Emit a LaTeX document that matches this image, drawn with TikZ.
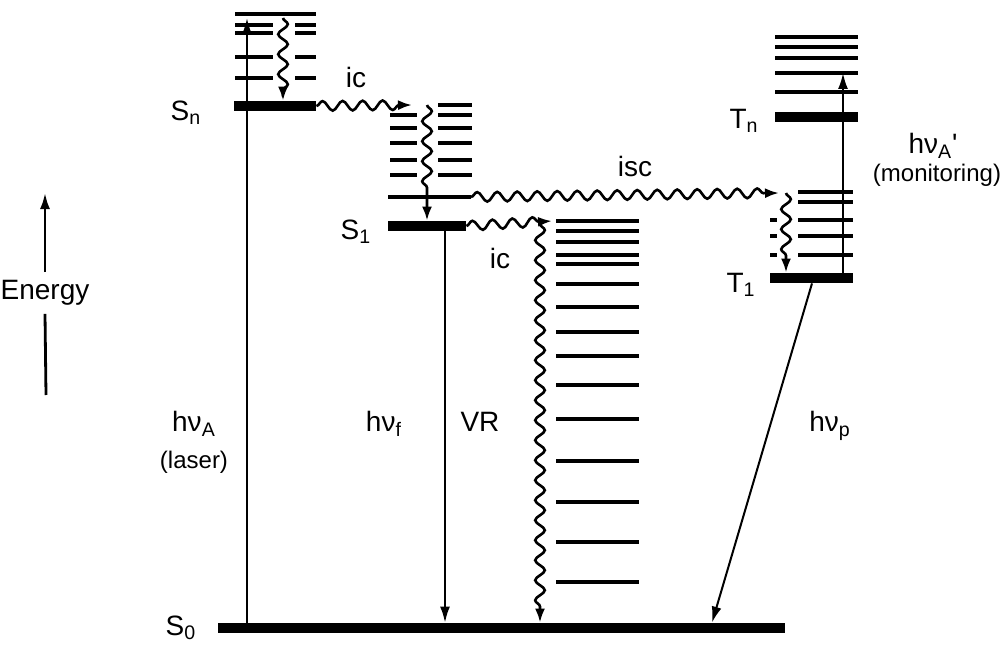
\documentclass[tikz,border=0pt]{standalone}
\usepackage{fontspec}
\setmainfont{Liberation Sans}
\usepackage{tikz}
\usetikzlibrary{arrows.meta,decorations.pathmorphing,positioning}

\begin{document}
\begin{tikzpicture}[x=0.5pt,y=-0.5pt,
    bar/.style={rectangle,fill=black,inner sep=0pt,minimum height=5pt},
    lvl/.style={line width=1.8pt},
    arr/.style={line width=1pt,-{Latex[length=8pt,width=5pt]}},
    wavy/.style={line width=1.3pt,-{Latex[length=7pt,width=5pt]},decorate,
      decoration={snake,amplitude=2.4pt,segment length=10pt,post length=5pt}},
    lbl/.style={font=\fontsize{14}{16}\selectfont,inner sep=1pt},
    sml/.style={font=\fontsize{12}{14}\selectfont,inner sep=1pt}]
  \useasboundingbox (0,0) rectangle (1007,647);

  % electronic levels
  \node[bar,minimum width=283.5pt] (S0) at (501.5,628) {};
  \node[bar,minimum width=41pt] (Sn) at (275,106) {};
  \node[bar,minimum width=39pt] (S1) at (427,226) {};
  \node[bar,minimum width=41.5pt] (Tn) at (816.5,117) {};
  \node[bar,minimum width=41.5pt] (T1) at (811.5,278) {};

  % vibrational levels
  \draw[lvl] (235,14) -- (316,14);
  \foreach \y in {25,33,57,78} {
    \draw[lvl] (235,\y) -- (273,\y);
    \draw[lvl] (295,\y) -- (316,\y);
  }
  \draw[lvl] (438,105) -- (472,105);
  \foreach \y in {115,128,143,160,175} {
    \draw[lvl] (390,\y) -- (417,\y);
    \draw[lvl] (438,\y) -- (472,\y);
  }
  \draw[lvl] (388,197) -- (471,197);
  \foreach \y in {221,231,242,255,264,284,307,332,356,385,419,461,502,542,582}
    \draw[lvl] (556,\y) -- (639,\y);
  \foreach \y in {37,47,58,73,92}
    \draw[lvl] (775,\y) -- (858,\y);
  \foreach \y in {192,202,220,236,255}
    \draw[lvl] (798,\y) -- (853,\y);
  \foreach \y in {220,236,255}
    \draw[lvl] (770,\y) -- (777,\y);

  % end points
  \coordinate (xA) at (247,18);
  \coordinate (xf) at (445,0);
  \coordinate (snw) at (283,18);
  \coordinate (icn) at (412,105);
  \coordinate (s1w) at (427,105);
  \coordinate (iscs) at (471,197);
  \coordinate (isce) at (779,193);
  \coordinate (t1w) at (786,193);
  \coordinate (ic1) at (552,221);
  \coordinate (vr) at (540,224);
  \coordinate (xAp) at (843,73);
  \coordinate (xp) at (812,0);
  \coordinate (xpe) at (712,0);
  \coordinate (etop) at (45,193);
  \coordinate (ebot) at (46,395);

  % transitions
  \draw[arr] (S0.north -| xA) -- (xA);
  \draw[wavy] (snw) -- (Sn.north -| snw);
  \draw[wavy] (Sn.east) -- (icn);
  \draw[wavy,/pgf/decoration/post length=12pt] (s1w) -- (S1.north -| s1w);
  \draw[arr] (S1.south -| xf) -- (S0.north -| xf);
  \draw[wavy] (S1.east) -- (ic1);
  \draw[wavy] (vr) -- (S0.north -| vr);
  \draw[wavy] (iscs) -- (isce);
  \draw[wavy] (t1w) -- (T1.north -| t1w);
  \draw[arr] (T1.north -| xAp) -- (xAp);
  \draw[arr] (T1.south -| xp) -- (S0.north -| xpe);

  % labels
  \node[lbl] (lSn) at (186,113) {S\textsubscript{n}};
  \node[lbl] (lS1) at (356,232) {S\textsubscript{1}};
  \node[lbl] (lS0) at (181,628) {S\textsubscript{0}};
  \node[lbl] (lTn) at (744,121) {T\textsubscript{n}};
  \node[lbl] (lT1) at (741,285) {T\textsubscript{1}};
  \node[lbl] (lA) at (194,424) {hν\textsubscript{A}};
  \node[sml] (laser) at (194,462) {(laser)};
  \node[lbl] (lf) at (384,424) {hν\textsubscript{f}};
  \node[lbl] (lVR) at (480,422) {VR};
  \node[lbl] (lp) at (830,426) {hν\textsubscript{p}};
  \node[lbl] (lAp) at (933,146) {hν\textsubscript{A}\textquotesingle};
  \node[sml] (mon) at (937,175) {(monitoring)};
  \node[lbl] (lisc) at (635,166) {isc};
  \node[lbl] (lic1) at (356,77) {ic};
  \node[lbl] (lic2) at (500,258) {ic};
  \node[lbl,inner sep=4pt] (energy) at (45,293) {Energy};
  \draw[arr,line width=1.2pt] (energy.north) -- (etop);
  \draw[line width=1.4pt] (energy.south) -- (ebot);
\end{tikzpicture}
\end{document}
